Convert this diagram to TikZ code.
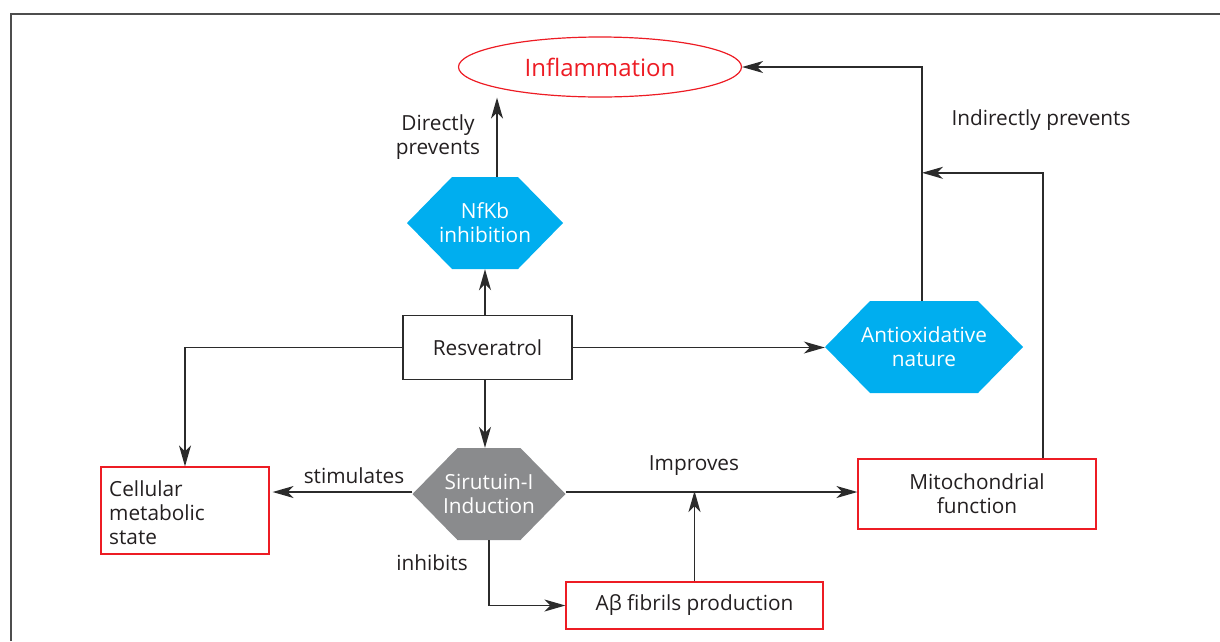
\documentclass[tikz,border=0pt]{standalone}
\usepackage{fontspec}
\setmainfont{Open Sans}
\usetikzlibrary{arrows.meta,calc,shapes.geometric}
\definecolor{txt}{HTML}{231F20}
\definecolor{ln}{HTML}{2B2B2B}
\definecolor{frm}{HTML}{4D4D4D}
\definecolor{rd}{HTML}{ED1C24}
\definecolor{cy}{HTML}{00AEEF}
\definecolor{gy}{HTML}{8A8B8D}
\newcommand{\mainfs}{\fontsize{20.8}{24}\selectfont}
\tikzset{
  arr/.style={draw=ln, line width=1.4pt, -{Stealth[length=21pt,width=12pt,inset=6pt]}},
  redbox/.style={draw=rd, line width=1.2pt, text=txt, font=\mainfs, align=center, inner sep=0pt},
  blackbox/.style={draw=ln, line width=1.2pt, text=txt, font=\mainfs, align=center, inner sep=0pt},
  hexbox/.style={text=white, font=\mainfs, align=center, inner sep=0pt,
    path picture={\fill[#1] (path picture bounding box.west)
       -- ($(path picture bounding box.north west)+(45,0)$)
       -- ($(path picture bounding box.north east)+(-45,0)$)
       -- (path picture bounding box.east)
       -- ($(path picture bounding box.south east)+(-45,0)$)
       -- ($(path picture bounding box.south west)+(45,0)$) -- cycle;}},
  lbl/.style={text=txt, font=\mainfs, align=center, inner sep=0pt}
}
\begin{document}
\begin{tikzpicture}[x=1pt,y=-1pt]
\useasboundingbox (0,0) rectangle (1220,641);
% frame
\draw[frm, line width=2pt] (11,641) -- (11,14) -- (1220,14);
% nodes
\node[draw=rd, line width=1.2pt, ellipse, minimum width=283, minimum height=60, inner sep=0pt,
      text=rd, font=\fontsize{24}{28}\selectfont] (infl) at (600,67) {Inflammation};
\node[hexbox=cy, minimum width=156, minimum height=92] (nf) at (485,223) {NfKb\\inhibition};
\node[blackbox, minimum width=169, minimum height=64] (res) at (487.5,347.5) {Resveratrol};
\node[hexbox=cy, minimum width=198, minimum height=92] (anti) at (924,347) {Antioxidative\\nature};
\node[hexbox=gy, minimum width=153, minimum height=92] (sir) at (489,494) {Sirutuin-I\\Induction};
\node[redbox, minimum width=168, minimum height=87] (cell) at (185,510.5) {};
\node[lbl, align=left, anchor=west] (celltxt) at (109,513) {Cellular\\metabolic\\state};
\node[redbox, minimum width=238, minimum height=70] (mito) at (977,494) {Mitochondrial\\function};
\node[redbox, minimum width=257, minimum height=47] (ab) at (694.5,605.5) {Aβ fibrils production};
% labels
\node[lbl] (l1) at (438,137) {Directly\\prevents};
\node[lbl] (l2) at (1041,120) {Indirectly prevents};
\node[lbl] (l3) at (354,476) {stimulates};
\node[lbl] (l4) at (694,466) {Improves};
\node[lbl] (l5) at (432,563) {inhibits};
% connectors
\draw[arr] ([xshift=12]nf.north) coordinate (nfo) -- (nfo |- infl.south);
\draw[arr] ([xshift=-2]anti.north) |- (infl.east);
\draw[arr] ([xshift=66]mito.north) |- ($(anti.north)+(-2,-128)$);
\draw[arr] (nf.south |- res.north) -- (nf.south);
\draw[arr] (res.west) -| (cell.north);
\draw[arr] (res.east) -- (res.east -| anti.west);
\draw[arr] (nf.south |- res.south) -- (nf.south |- sir.north);
\draw[arr, shorten >=3pt] ([yshift=2]sir.west) -- ([yshift=2]sir.west -| cell.east);
\draw[arr] ([yshift=2]sir.east) -- ([yshift=2]sir.east -| mito.west);
\draw[arr] (sir.south) |- (ab.west);
\draw[arr] (ab.north) -- ([yshift=3]ab.north |- sir.east);
\end{tikzpicture}
\end{document}
